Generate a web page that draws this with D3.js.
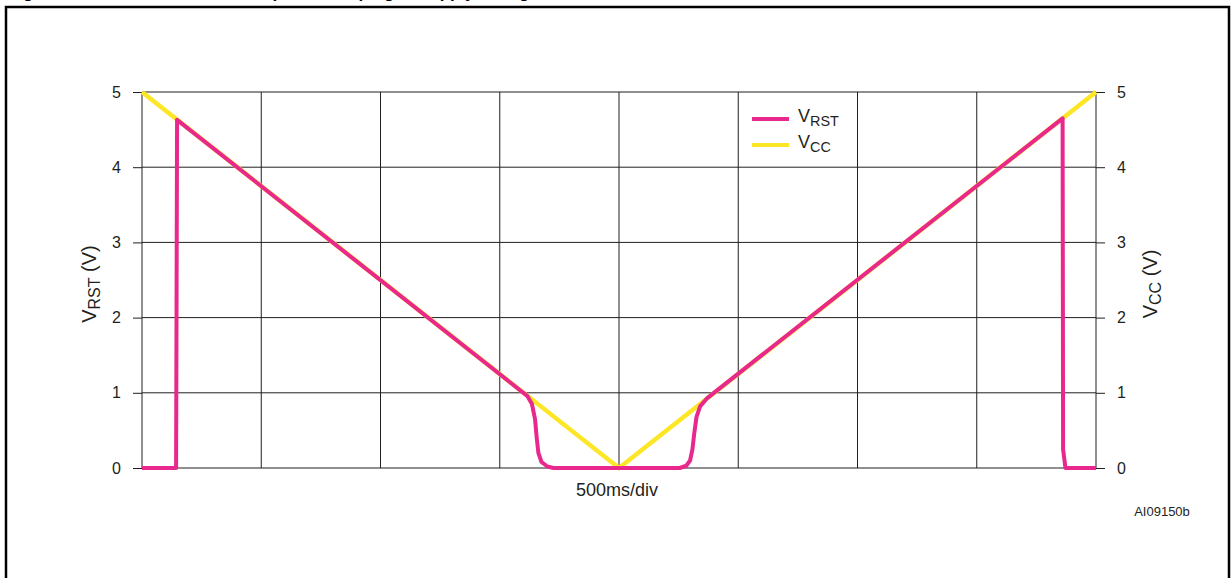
<!DOCTYPE html>
<html>
<head>
<script src="https://d3js.org/d3.v7.min.js"></script>
<style>
  body { margin: 0; background: #fff; }
  svg { display: block; font-family: "Liberation Sans", Arial, sans-serif; }
  .tick text { font-size: 16px; fill: #231f20; }
  .tick line { stroke: #231f20; }
</style>
</head>
<body>
<div id="chart"></div>
<script>
// time in ms (500 ms per division), voltage in V
const timeTicks = [0, 500, 1000, 1500, 2000, 2500, 3000, 3500, 4000];
const voltTicks = [0, 1, 2, 3, 4, 5];

// supply voltage: linear ramp down then up
const vccT = [0, 2000, 4000];
const vccV = [5, 0, 5];

// reset output
const rstT = [0, 143, 145, 147, 1615, 1635, 1648, 1655, 1662, 1675, 1700, 1725,
              2255, 2282, 2298, 2308, 2315, 2325, 2340, 2370, 3860, 3862, 3872, 4000];
const rstV = [0, 0, 2.3, 4.63, 0.96, 0.85, 0.65, 0.4, 0.2, 0.08, 0.02, 0,
              0, 0.03, 0.1, 0.25, 0.45, 0.68, 0.82, 0.93, 4.65, 0.25, 0, 0];

const pink = "#e8288c", yellow = "#fde626";

const W = 1231, H = 578;
const svg = d3.select("#chart").append("svg").attr("width", W).attr("height", H);

// outer frame; the figure title is cut by the top edge of the picture
svg.append("path")
    .attr("d", "M6,578 V7 H1229 V578")
    .attr("fill", "none").attr("stroke", "#000").attr("stroke-width", 2.5);
svg.append("text")
    .attr("x", 8).attr("y", -2)
    .attr("font-size", 17).attr("font-weight", "bold")
    .text("Figure 9. Reset behavior at slow power ramping of supply voltage");

const x = d3.scaleLinear().domain([0, 4000]).range([142, 1096]);
const y = d3.scaleLinear().domain([0, 5]).range([468, 92]);

// grid
svg.append("g").selectAll("line").data(timeTicks).join("line")
    .attr("x1", d => x(d)).attr("x2", d => x(d))
    .attr("y1", y(0)).attr("y2", y(5))
    .attr("stroke", "#231f20").attr("stroke-width", 1);
svg.append("g").selectAll("line").data(voltTicks).join("line")
    .attr("x1", x(0)).attr("x2", x(4000))
    .attr("y1", d => y(d)).attr("y2", d => y(d))
    .attr("stroke", "#231f20").attr("stroke-width", 1);

// axes
svg.append("g")
    .attr("transform", "translate(" + x(0) + ",0)")
    .call(d3.axisLeft(y).tickValues(voltTicks).tickFormat(d3.format("d")).tickSize(9).tickPadding(12));
svg.append("g")
    .attr("transform", "translate(" + x(4000) + ",0)")
    .call(d3.axisRight(y).tickValues(voltTicks).tickFormat(d3.format("d")).tickSize(9).tickPadding(12));
svg.selectAll(".domain").remove();

// traces
const line = d3.line().x(d => x(d[0])).y(d => y(d[1]));
svg.append("path")
    .datum(vccT.map((t, i) => [t, vccV[i]]))
    .attr("d", line).attr("fill", "none")
    .attr("stroke", yellow).attr("stroke-width", 4.5);
svg.append("path")
    .datum(rstT.map((t, i) => [t, rstV[i]]))
    .attr("d", line).attr("fill", "none")
    .attr("stroke", pink).attr("stroke-width", 4).attr("stroke-linejoin", "round");

// axis titles
function subLabel(g, main, sub, rest, size) {
    const t = g.append("text").attr("font-size", size).attr("fill", "#231f20");
    t.append("tspan").text(main);
    t.append("tspan").attr("font-size", size * 0.8).attr("dy", size * 0.2).text(sub);
    if (rest) t.append("tspan").attr("dy", -size * 0.2).text(rest);
    return t;
}
subLabel(svg.append("g").attr("transform", "translate(96,284) rotate(-90)"), "V", "RST", " (V)", 20)
    .attr("text-anchor", "middle");
subLabel(svg.append("g").attr("transform", "translate(1157,284) rotate(-90)"), "V", "CC", " (V)", 20)
    .attr("text-anchor", "middle");

svg.append("text").attr("x", 617).attr("y", 496).attr("text-anchor", "middle")
    .attr("font-size", 18).attr("fill", "#231f20").text("500ms/div");
svg.append("text").attr("x", 1162).attr("y", 516).attr("text-anchor", "middle")
    .attr("font-size", 13).attr("fill", "#231f20").text("AI09150b");

// legend
const legend = svg.append("g").attr("transform", "translate(752,119)");
const items = [["RST", pink], ["CC", yellow]];
items.forEach((it, i) => {
    const g = legend.append("g").attr("transform", "translate(0," + i * 26 + ")");
    g.append("line").attr("x1", 0).attr("x2", 37).attr("stroke", it[1]).attr("stroke-width", 4);
    subLabel(g.append("g").attr("transform", "translate(46,3)"), "V", it[0], null, 18);
});
</script>
</body>
</html>
